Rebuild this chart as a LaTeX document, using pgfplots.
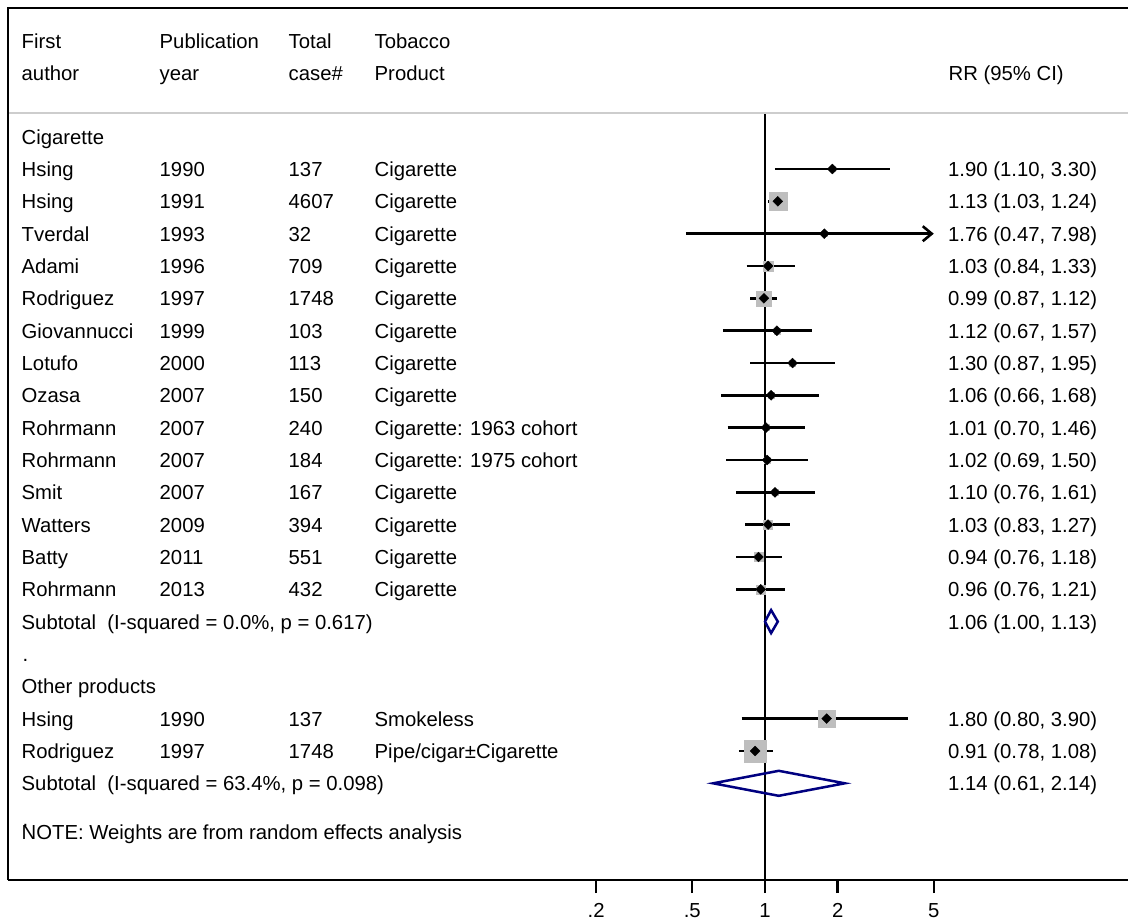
\documentclass[border=0pt]{standalone}
\usepackage{fontspec}
\setmainfont{Liberation Sans}
\usepackage{pgfplots}
\pgfplotsset{compat=1.18}
\usepackage{pgfplotstable}
\usetikzlibrary{arrows.meta}
\definecolor{navy}{RGB}{0,0,128}
\definecolor{boxgray}{RGB}{190,190,190}
\definecolor{sepgray}{RGB}{205,205,205}

% study rows: RR, lower, upper, row position (pixels from top, negative), box half-size
\pgfplotstableread{
rr   lo   hi   y      w
1.90 1.10 3.30 -169.0 2.5
1.13 1.03 1.24 -201.3 9
1.76 0.47 7.98 -233.7 2.5
1.03 0.84 1.33 -266.0 5
0.99 0.87 1.12 -298.3 7.5
1.12 0.67 1.57 -330.7 3
1.30 0.87 1.95 -363.0 3
1.06 0.66 1.68 -395.3 3
1.01 0.70 1.46 -427.6 3
1.02 0.69 1.50 -460.0 3
1.10 0.76 1.61 -492.3 3
1.03 0.83 1.27 -524.6 4.5
0.94 0.76 1.18 -557.0 4.5
0.96 0.76 1.21 -589.3 4.5
1.80 0.80 3.90 -718.6 8.5
0.91 0.78 1.08 -751.0 11.3
}\studies

% confidence intervals as segments (Tverdal drawn separately with arrow)
\pgfplotstableread{
x    y
1.10 -169.0
3.30 -169.0
nan  nan
1.03 -201.3
1.24 -201.3
nan  nan
0.84 -266.0
1.33 -266.0
nan  nan
0.87 -298.3
1.12 -298.3
nan  nan
0.67 -330.7
1.57 -330.7
nan  nan
0.87 -363.0
1.95 -363.0
nan  nan
0.66 -395.3
1.68 -395.3
nan  nan
0.70 -427.6
1.46 -427.6
nan  nan
0.69 -460.0
1.50 -460.0
nan  nan
0.76 -492.3
1.61 -492.3
nan  nan
0.83 -524.6
1.27 -524.6
nan  nan
0.76 -557.0
1.18 -557.0
nan  nan
0.76 -589.3
1.21 -589.3
nan  nan
0.80 -718.6
3.90 -718.6
nan  nan
0.78 -751.0
1.08 -751.0
}\cis

\newcommand\rowt[6]{%
  \node[txt] at (21.5,#1) {#2};
  \node[txt] at (159.5,#1) {#3};
  \node[txt] at (288.5,#1) {#4};
  \node[txt] at (374.5,#1) {#5};
  \node[txt] at (948,#1) {#6};}

\begin{document}
\fontsize{20.3}{24}\selectfont
\begin{tikzpicture}[x=1pt,y=-1pt,
  txt/.style={anchor=base west, inner sep=0pt, font=\fontsize{20.3}{24}\selectfont}]
\path[use as bounding box] (0,0) rectangle (1128,922);
\begin{axis}[
  at={(8pt,-880pt)}, anchor=south west,
  scale only axis, width=1120pt, height=872pt,
  xmode=log, xmin=7.336e-4, xmax=31.85,
  ymin=-880, ymax=-8,
  axis x line*=bottom, axis y line=none,
  x axis line style={-, line width=2.6pt},
  xtick={0.2,0.5,1,2,5}, xticklabels={.2,.5,1,2,5},
  xminorticks=false,
  tick align=outside, major tick length=13pt,
  xtick style={line width=2.4pt, black},
  ytick=\empty,
  clip=false,
  tick label style={font=\fontsize{20.3}{24}\selectfont},
  xticklabel style={anchor=north, inner sep=0pt, yshift=-10.5pt},
  unbounded coords=jump,
]
% weight boxes
\addplot[scatter, only marks, mark=square*,
  scatter/use mapped color={draw=boxgray, fill=boxgray},
  visualization depends on={\thisrow{w}\as\wsz},
  scatter/@pre marker code/.append style={/tikz/mark size=\wsz pt}]
  table[x=rr, y=y] {\studies};
% reference line at 1
\addplot[black, line width=2.6pt] coordinates {(1,-113) (1,-880)};
% confidence intervals
\addplot[black, line width=2.6pt] table[x=x, y=y] {\cis};
\addplot[black, line width=2.6pt, -{Straight Barb[length=9pt, width=15pt]}]
  coordinates {(0.47,-233.7) (5,-233.7)};
% point estimates
\addplot[only marks, mark=square*, mark size=3.5pt,
  mark options={rotate=45, draw=black, fill=black}]
  table[x=rr, y=y] {\studies};
% subtotal diamonds
\addplot[navy, line width=2.5pt] coordinates
  {(1.00,-621.6) (1.06,-610.1) (1.13,-621.6) (1.06,-633.1)} -- cycle;
\addplot[navy, line width=2.5pt] coordinates
  {(0.61,-783.3) (1.14,-770.8) (2.14,-783.3) (1.14,-795.8)} -- cycle;
\end{axis}
\draw[sepgray, line width=1.8pt] (8,113) -- (1128,113);
\draw[line width=2.6pt] (8,880) -- (8,8) -- (1128,8);

% header
\node[txt] at (21.5,48.3) {First};
\node[txt] at (21.5,80.5) {author};
\node[txt] at (159.5,48.3) {Publication};
\node[txt] at (159.5,80.5) {year};
\node[txt] at (288.5,48.3) {Total};
\node[txt] at (288.5,80.5) {case\#};
\node[txt] at (374.5,48.3) {Tobacco};
\node[txt] at (374.5,80.5) {Product};
\node[txt] at (948.5,80.5) {RR (95\% CI)};

\node[txt] at (21.5,144.2) {Cigarette};
\rowt{176.5}{Hsing}{1990}{137}{Cigarette}{1.90 (1.10, 3.30)}
\rowt{208.8}{Hsing}{1991}{4607}{Cigarette}{1.13 (1.03, 1.24)}
\rowt{241.2}{Tverdal}{1993}{32}{Cigarette}{1.76 (0.47, 7.98)}
\rowt{273.5}{Adami}{1996}{709}{Cigarette}{1.03 (0.84, 1.33)}
\rowt{305.8}{Rodriguez}{1997}{1748}{Cigarette}{0.99 (0.87, 1.12)}
\rowt{338.2}{Giovannucci}{1999}{103}{Cigarette}{1.12 (0.67, 1.57)}
\rowt{370.5}{Lotufo}{2000}{113}{Cigarette}{1.30 (0.87, 1.95)}
\rowt{402.8}{Ozasa}{2007}{150}{Cigarette}{1.06 (0.66, 1.68)}
\rowt{435.1}{Rohrmann}{2007}{240}{Cigarette: 1963 cohort}{1.01 (0.70, 1.46)}
\rowt{467.5}{Rohrmann}{2007}{184}{Cigarette: 1975 cohort}{1.02 (0.69, 1.50)}
\rowt{499.8}{Smit}{2007}{167}{Cigarette}{1.10 (0.76, 1.61)}
\rowt{532.1}{Watters}{2009}{394}{Cigarette}{1.03 (0.83, 1.27)}
\rowt{564.5}{Batty}{2011}{551}{Cigarette}{0.94 (0.76, 1.18)}
\rowt{596.8}{Rohrmann}{2013}{432}{Cigarette}{0.96 (0.76, 1.21)}
\node[txt] at (21.5,629.1) {Subtotal\ \ (I-squared = 0.0\%, p = 0.617)};
\node[txt] at (948,629.1) {1.06 (1.00, 1.13)};
\node[txt] at (22.5,661.5) {.};
\node[txt] at (21.5,693.8) {Other products};
\rowt{726.1}{Hsing}{1990}{137}{Smokeless}{1.80 (0.80, 3.90)}
\rowt{758.5}{Rodriguez}{1997}{1748}{Pipe/cigar±Cigarette}{0.91 (0.78, 1.08)}
\node[txt] at (21.5,790.8) {Subtotal\ \ (I-squared = 63.4\%, p = 0.098)};
\node[txt] at (948,790.8) {1.14 (0.61, 2.14)};
\node[txt] at (22.5,826) {.};
\node[txt] at (21.5,839.3) {NOTE: Weights are from random effects analysis};
\end{tikzpicture}
\end{document}
